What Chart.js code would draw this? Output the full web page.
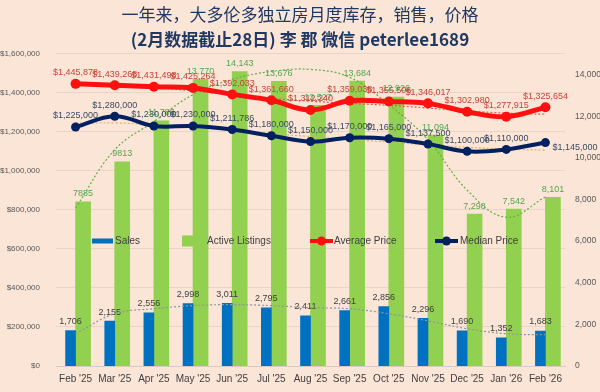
<!DOCTYPE html>
<html>
<head>
<meta charset="utf-8">
<script src="https://cdn.jsdelivr.net/npm/chart.js@4"></script>
<style>
  html, body { margin: 0; padding: 0; background: #FBE5D6; }
  canvas { display: block; }
</style>
</head>
<body>
<canvas id="chart" width="600" height="392"></canvas>
<script>
// Chart data
const months = ["Feb '25", "Mar '25", "Apr '25", "May '25", "Jun '25", "Jul '25", "Aug '25",
                "Sep '25", "Oct '25", "Nov '25", "Dec '25", "Jan '26", "Feb '26"];
const sales = [1706, 2155, 2556, 2998, 3011, 2795, 2411, 2661, 2856, 2296, 1690, 1352, 1683];
const listings = [7885, 9813, 11785, 13770, 14143, 13676, 12527, 13684, 12926, 11094, 7298, 7542, 8101];
const avgPrice = [1445878, 1439268, 1431498, 1425264, 1392033, 1361660, 1312240, 1359038, 1355506,
                  1346017, 1302980, 1277915, 1325654];
const medianPrice = [1225000, 1280000, 1230000, 1230000, 1211786, 1180000, 1150000, 1170000, 1165000,
                     1137500, 1100000, 1110000, 1145000];

// dotted trend lines, as they appear in the picture
const listingsTrend = [7590, 10390, 11740, 13040, 13770, 14150, 14250, 13870, 12560, 10870, 8450, 7150, 8120];
const salesTrend = [1550, 2510, 2750, 2900, 2950, 2900, 2800, 2750, 2510, 2170, 1790, 1550, 1500];
const avgTrend = [1450000, 1440000, 1428000, 1410000, 1390000, 1372000, 1357000, 1346000, 1336000,
                  1322000, 1307000, 1296000, 1290000];
const medianTrend = [1245000, 1246000, 1236000, 1222000, 1207000, 1191000, 1176000, 1161000, 1147000,
                     1133000, 1121000, 1112000, 1106000];

// right axis tick labels
const countTicks = [0, 2000, 4000, 6000, 8000, 10000, 12000, 14000];

// listings labels printed without thousands separator
const plainListingIdx = [0, 1];

const BLUE = '#0070C0';
const GREEN = '#92D050';
const RED = '#FF1010';
const NAVY = '#002060';
const FONT = '"Liberation Sans", Arial, sans-serif';

Chart.defaults.font.family = FONT;

const fmt = v => v.toLocaleString('en-US');
const money = v => '$' + v.toLocaleString('en-US');

// page background
const bgPlugin = {
    id: 'bg',
    beforeDraw(chart) {
        const { ctx, width, height } = chart;
        ctx.save();
        ctx.fillStyle = '#FBE5D6';
        ctx.fillRect(0, 0, width, height);
        ctx.restore();
    }
};

// value labels, drawn right after their own dataset so layering matches
const valueLabels = {
    id: 'valueLabels',
    afterDatasetDraw(chart, args) {
        const ds = chart.data.datasets[args.index];
        if (!ds.labelColor) return;
        const ctx = chart.ctx;
        const meta = args.meta;
        ctx.save();
        ctx.font = '9px ' + FONT;
        ctx.fillStyle = ds.labelColor;
        ctx.textBaseline = 'middle';
        meta.data.forEach((el, j) => {
            const txt = ds.labelText(ds.data[j], j);
            if (ds.lastRight && j === meta.data.length - 1) {
                ctx.textAlign = 'left';
                ctx.fillText(txt, el.x + 7, el.y + 5);
            } else {
                ctx.textAlign = 'center';
                ctx.fillText(txt, el.x, el.y - ds.labelGap);
            }
        });
        ctx.restore();
    }
};

// legend placed inside the plot, like the original
const legendItems = [
    { text: 'Sales', kind: 'bar', color: BLUE, x: 92, tx: 115 },
    { text: 'Active Listings', kind: 'box', color: GREEN, x: 182, tx: 207 },
    { text: 'Average Price', kind: 'line', color: RED, x: 310, tx: 334 },
    { text: 'Median Price', kind: 'line', color: NAVY, x: 435, tx: 460 }
];
const innerLegend = {
    id: 'innerLegend',
    afterDraw(chart) {
        const ctx = chart.ctx;
        const y = 241;
        ctx.save();
        ctx.font = '10px ' + FONT;
        ctx.textBaseline = 'middle';
        ctx.textAlign = 'left';
        legendItems.forEach(it => {
            ctx.fillStyle = it.color;
            ctx.strokeStyle = it.color;
            if (it.kind === 'bar') {
                ctx.fillRect(it.x, y - 2.5, 21, 5);
            } else if (it.kind === 'box') {
                ctx.fillRect(it.x, y - 5.5, 11, 11);
            } else {
                ctx.lineWidth = 4;
                ctx.beginPath();
                ctx.moveTo(it.x, y);
                ctx.lineTo(it.x + 23, y);
                ctx.stroke();
                ctx.beginPath();
                ctx.arc(it.x + 11.5, y, 4.5, 0, Math.PI * 2);
                ctx.fill();
            }
            ctx.fillStyle = '#404040';
            ctx.fillText(it.text, it.tx, y);
        });
        ctx.restore();
    }
};

const trend = (data, color, axis) => ({
    type: 'line',
    data: data,
    yAxisID: axis,
    borderColor: color,
    borderWidth: 1.2,
    borderDash: [2, 2],
    pointRadius: 0,
    tension: 0.4,
    fill: false,
    order: 2
});

new Chart(document.getElementById('chart'), {
    data: {
        labels: months,
        datasets: [
            {
                type: 'bar',
                label: 'Sales',
                data: sales,
                yAxisID: 'y1',
                backgroundColor: BLUE,
                barThickness: 10,
                order: 3,
                labelColor: '#404040',
                labelGap: 9,
                labelText: v => fmt(v)
            },
            {
                type: 'bar',
                label: 'Active Listings',
                data: listings,
                yAxisID: 'y1',
                backgroundColor: GREEN,
                barThickness: 15,
                order: 3,
                labelColor: '#4FA84F',
                labelGap: 8,
                labelText: (v, j) => plainListingIdx.includes(j) ? String(v) : fmt(v)
            },
            trend(listingsTrend, '#5FAF4A', 'y1'),
            trend(salesTrend, '#8C96A0', 'y1'),
            trend(avgTrend, '#E05A50', 'y'),
            trend(medianTrend, '#D8B070', 'y'),
            {
                type: 'line',
                label: 'Average Price',
                data: avgPrice,
                yAxisID: 'y',
                borderColor: RED,
                backgroundColor: RED,
                borderWidth: 5,
                pointRadius: 5,
                pointBorderWidth: 0,
                tension: 0.4,
                order: 1,
                labelColor: '#C8433A',
                labelGap: 11,
                labelText: v => money(v)
            },
            {
                type: 'line',
                label: 'Median Price',
                data: medianPrice,
                yAxisID: 'y',
                borderColor: NAVY,
                backgroundColor: NAVY,
                borderWidth: 4,
                pointRadius: 4.5,
                pointBorderWidth: 0,
                tension: 0.4,
                order: 0,
                labelColor: '#3B4A63',
                labelGap: 11,
                lastRight: true,
                labelText: v => money(v)
            }
        ]
    },
    options: {
        responsive: false,
        animation: false,
        layout: { padding: { left: 0, right: 0, top: 0, bottom: 0 } },
        plugins: {
            legend: { display: false },
            tooltip: { enabled: false },
            title: {
                display: true,
                text: '一年来，大多伦多独立房月度库存，销售，价格',
                color: '#1F3864',
                font: { family: '"Noto Sans CJK SC"', size: 17, weight: 'normal' },
                padding: { top: 4, bottom: 2 }
            },
            subtitle: {
                display: true,
                text: '(2月数据截止28日) 李 郡 微信 peterlee1689',
                color: '#1F3864',
                font: { family: '"Noto Sans CJK SC"', size: 17, weight: 'bold' },
                padding: { top: 3, bottom: 4 }
            }
        },
        scales: {
            x: {
                grid: { display: false, drawTicks: false },
                border: { color: '#D9CBC2' },
                ticks: { color: '#404040', font: { size: 10 }, padding: 7, maxRotation: 0, autoSkip: false }
            },
            y: {
                position: 'left',
                min: 0,
                max: 1600000,
                border: { display: false },
                grid: { color: 'rgba(0,0,0,0.07)', drawTicks: false },
                afterFit: axis => { axis.width = 56; },
                ticks: { stepSize: 200000, color: '#595959', font: { size: 8 }, padding: 16, callback: v => money(v) }
            },
            y1: {
                position: 'right',
                min: 0,
                max: 15000,
                border: { display: false },
                grid: { display: false, drawTicks: false },
                afterFit: axis => { axis.width = 35; },
                afterBuildTicks: axis => { axis.ticks = countTicks.map(v => ({ value: v })); },
                ticks: { color: '#595959', font: { size: 8.5 }, padding: 10, callback: v => fmt(v) }
            }
        }
    },
    plugins: [bgPlugin, valueLabels, innerLegend]
});
</script>
</body>
</html>
